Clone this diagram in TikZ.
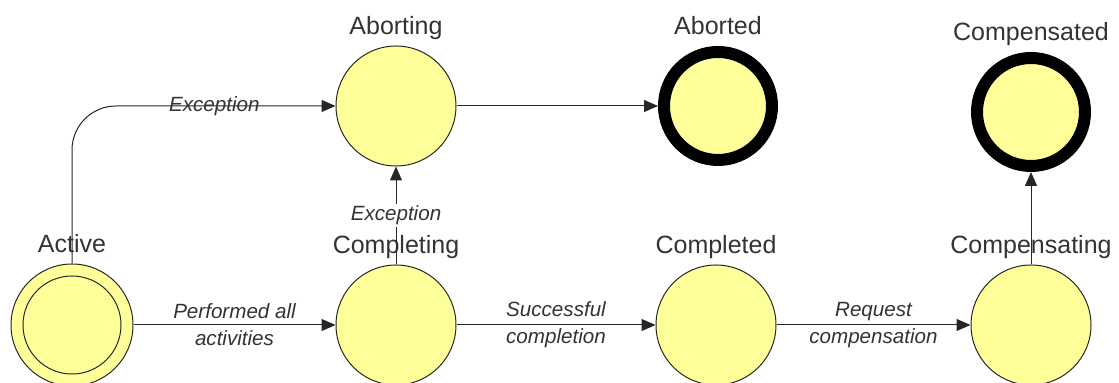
\documentclass[tikz,border=0pt]{standalone}
\usepackage{fontspec}
\setmainfont{Liberation Sans}
\usetikzlibrary{arrows.meta, positioning}
\definecolor{stfill}{HTML}{FFFF99}
\definecolor{txtgray}{HTML}{333333}

\begin{document}
\begin{tikzpicture}[
  x=0.5pt, y=-0.5pt,
  font=\fontsize{12.5}{15}\selectfont,
  state/.style={circle, draw=black!85, fill=stfill, line width=0.5pt,
                minimum size=60pt, inner sep=0pt},
  start/.style={state, minimum size=61pt,
                path picture={\draw[black!85, line width=0.5pt]
                  (path picture bounding box.center) circle (24.5pt);}},
  final/.style={state, draw=black, line width=6pt, minimum size=54pt},
  slabel/.style={anchor=base, label distance=5.5pt, text=txtgray},
  elabel/.style={font=\fontsize{10.3}{13.5}\selectfont\itshape,
                 text=txtgray, align=center},
  arr/.style={-{Triangle[length=7pt,width=6pt]}, line width=0.5pt,
              draw=black!85},
]
\useasboundingbox (0,0) rectangle (1119,383);
% states
\node[start] (act)  at (72,325)   [label={[slabel]90:Active}] {};
\node[state] (abg)  at (396,106)  [label={[slabel]90:Aborting}] {};
\node[final] (abd)  at (718,106)  [label={[slabel]90:Aborted}] {};
\node[state] (cmpg) at (396,325)  [label={[slabel]90:Completing}] {};
\node[state] (cmpd) at (716,325)  [label={[slabel]90:Completed}] {};
\node[state] (cpsg) at (1031,325) [label={[slabel]90:Compensating}] {};
\node[final] (cpsd) at (1031,112) [label={[slabel]90:Compensated}] {};
% transitions
\draw[arr, rounded corners=22pt] (act.north) |- node[elabel, pos=0.77] {Exception} (abg.west);
\draw[arr] (act) -- node[elabel] {Performed all\\activities} (cmpg);
\draw[arr] (cmpg.north) -- node[elabel, fill=white, inner sep=1pt] {Exception} (abg.south);
\draw[arr] (abg) -- (abd);
\draw[arr] (cmpg) -- node[elabel] {Successful\\completion} (cmpd);
\draw[arr] (cmpd) -- node[elabel] {Request\\compensation} (cpsg);
\draw[arr] (cpsg.north) -- (cpsd.south);
\end{tikzpicture}
\end{document}
